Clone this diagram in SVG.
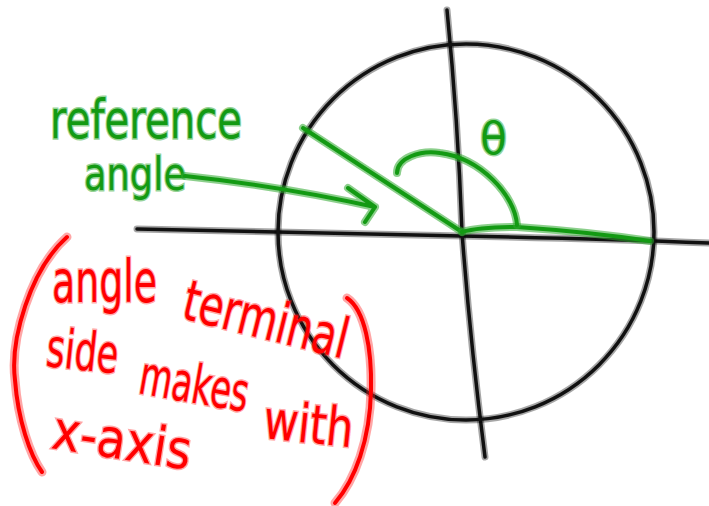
<svg xmlns="http://www.w3.org/2000/svg" width="709" height="506" viewBox="0 0 709 506">
<style>
.bh{fill:none;stroke:#000;stroke-opacity:0.35;stroke-width:7;stroke-linecap:round;stroke-linejoin:round}
.bk{fill:none;stroke:#111;stroke-width:3.5;stroke-linecap:round;stroke-linejoin:round}
.gh{fill:none;stroke:#2ea82e;stroke-opacity:0.55;stroke-width:8;stroke-linecap:round;stroke-linejoin:round}
.gk{fill:none;stroke:#139a13;stroke-width:4;stroke-linecap:round;stroke-linejoin:round}
.rh{fill:none;stroke:#ff2020;stroke-opacity:0.4;stroke-width:9;stroke-linecap:round;stroke-linejoin:round}
.rk{fill:none;stroke:#ff0000;stroke-width:4;stroke-linecap:round;stroke-linejoin:round}
.gt{font-family:"DejaVu Sans",sans-serif;fill:#139a13;stroke:#2ea82e;stroke-opacity:0.5;stroke-width:3;paint-order:stroke}
.rt{font-family:"DejaVu Sans",sans-serif;fill:#ff0000;stroke:#ff2020;stroke-opacity:0.4;stroke-width:3;paint-order:stroke}
</style>
<rect width="709" height="506" fill="#fff"/>
<g id="axes">
<path class="bh" d="M137,229 Q300,232 462,236 Q600,239 709,243"/>
<path class="bk" d="M137,229 Q300,232 462,236 Q600,239 709,243"/>
<path class="bh" d="M447,10 Q458,120 462,232 Q470,340 485,457"/>
<path class="bk" d="M447,10 Q458,120 462,232 Q470,340 485,457"/>
</g>
<g id="circle">
<circle class="bh" cx="466" cy="232" r="188"/>
<circle class="bk" cx="466" cy="232" r="188"/>
</g>
<g id="angle">
<path class="gh" d="M303,128 L462,232"/>
<path class="gk" d="M303,128 L462,232"/>
<path class="gh" d="M462,232 Q480,227 517,227 Q590,232 650,241"/>
<path class="gk" d="M462,232 Q480,227 517,227 Q590,232 650,241"/>
<path class="gh" d="M397,173 C397,158 420,150 440,153 C480,158 515,195 517,225"/>
<path class="gk" d="M397,173 C397,158 420,150 440,153 C480,158 515,195 517,225"/>
<text class="gt" x="480" y="154" font-size="44">θ</text>
</g>
<g id="label-reference-angle">
<text class="gt" x="50" y="138" font-size="54" textLength="192" lengthAdjust="spacingAndGlyphs">reference</text>
<text class="gt" x="84" y="190" font-size="46" textLength="102" lengthAdjust="spacingAndGlyphs">angle</text>
</g>
<g id="connectors">
<path class="gh" d="M185,176 Q280,186 375,207 M348,188 L375,207 L365,222"/>
<path class="gk" d="M185,176 Q280,186 375,207 M348,188 L375,207 L365,222"/>
</g>
<g id="note">
<path class="rh" d="M67,237 C30,270 10,340 15,380 C18,420 30,455 42,472"/>
<path class="rk" d="M67,237 C30,270 10,340 15,380 C18,420 30,455 42,472"/>
<path class="rh" d="M347,298 C365,310 372,350 371,390 C370,440 355,480 335,503"/>
<path class="rk" d="M347,298 C365,310 372,350 371,390 C370,440 355,480 335,503"/>
<text class="rt" x="52" y="302" font-size="58" textLength="105" lengthAdjust="spacingAndGlyphs">angle</text>
<text class="rt" x="0" y="0" font-size="56" textLength="168" lengthAdjust="spacingAndGlyphs" transform="translate(180,318) rotate(14)">terminal</text>
<text class="rt" x="0" y="0" font-size="54" textLength="72" lengthAdjust="spacingAndGlyphs" transform="translate(45,366) rotate(6)">side</text>
<text class="rt" x="0" y="0" font-size="54" textLength="110" lengthAdjust="spacingAndGlyphs" transform="translate(137,393) rotate(10)">makes</text>
<text class="rt" x="0" y="0" font-size="54" textLength="90" lengthAdjust="spacingAndGlyphs" transform="translate(262,438) rotate(6)">with</text>
<text class="rt" x="0" y="0" font-size="54" textLength="140" lengthAdjust="spacingAndGlyphs" transform="translate(50,448) rotate(9)">x-axis</text>
</g>
</svg>
